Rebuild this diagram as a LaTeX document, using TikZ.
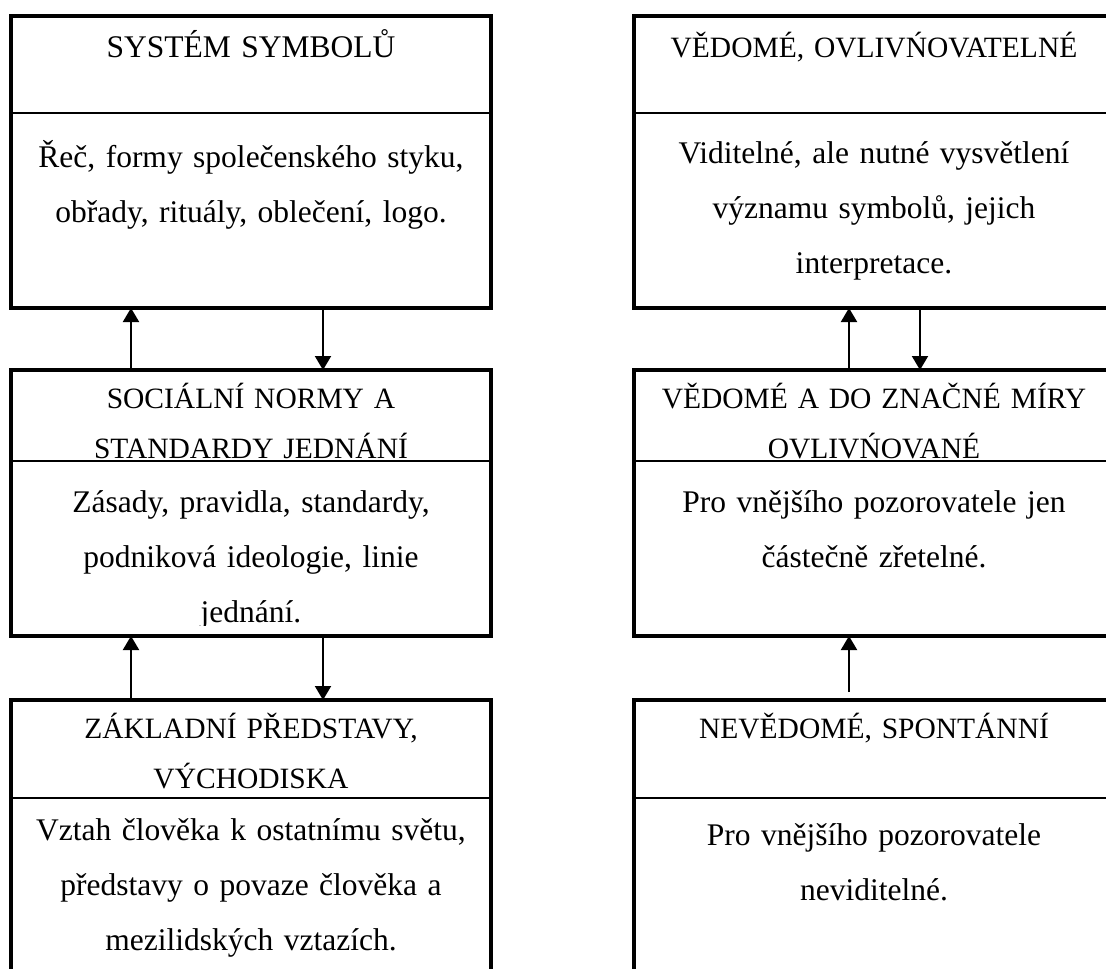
\documentclass[tikz,border=0pt]{standalone}
\usepackage{fontspec}
\setmainfont{Liberation Serif}
\usetikzlibrary{arrows.meta,calc}

\begin{document}
\begin{tikzpicture}[x=1pt,y=-1pt,
frame/.style={draw,line width=3.5pt,minimum width=480pt,inner sep=0pt,outer sep=0pt,anchor=north west},
rule/.style={draw,line width=1.2pt},
head/.style={text width=470pt,align=center,inner sep=0pt,anchor=base,font=\fontsize{29.5}{50}\selectfont},
body/.style={text width=470pt,align=center,inner sep=0pt,anchor=base,font=\fontsize{31.5}{55}\selectfont},
link/.style={-{Triangle[length=14pt,width=16pt]},line width=2pt},
]
\clip (0,0) rectangle (1106,969);
% levels of the culture (left column)
\node[frame,minimum height=292pt] (symb) at (11,16) {};
\node[frame,minimum height=266pt] (norm) at (11,370) {};
\node[frame,minimum height=300pt] (zakl) at (11,700) {};
% how far it can be seen (right column)
\node[frame,minimum height=292pt] (vedo) at (634,16) {};
\node[frame,minimum height=266pt] (ovli) at (634,370) {};
\node[frame,minimum height=300pt] (neve) at (634,700) {};
% dividers
\draw[rule] ($(symb.north west)+(0,97)$) -- ($(symb.north east)+(0,97)$);
\draw[rule] ($(norm.north west)+(0,91)$) -- ($(norm.north east)+(0,91)$);
\draw[rule] ($(zakl.north west)+(0,98)$) -- ($(zakl.north east)+(0,98)$);
\draw[rule] ($(vedo.north west)+(0,97)$) -- ($(vedo.north east)+(0,97)$);
\draw[rule] ($(ovli.north west)+(0,91)$) -- ($(ovli.north east)+(0,91)$);
\draw[rule] ($(neve.north west)+(0,98)$) -- ($(neve.north east)+(0,98)$);

\node[head,font=\fontsize{31.5}{50}\selectfont] (symbH) at (251,57) {SYSTÉM SYMBOLŮ};
\node[body] (symbB) at (251,167) {Řeč, formy společenského styku,\\obřady, rituály, oblečení, logo.};
\begin{scope}
\clip (norm.north west) rectangle ($(norm.north east)+(0,90)$);
\node[head] (normH) at (251,408) {SOCIÁLNÍ NORMY A\\STANDARDY JEDNÁNÍ};
\end{scope}
\begin{scope}
\clip ($(norm.north west)+(0,92)$) rectangle ($(norm.north east)+(0,255)$);
\node[body] (normB) at (251,512) {Zásady, pravidla, standardy,\\podniková ideologie, linie\\jednání.};
\end{scope}
\node[head] (zaklH) at (251,738) {ZÁKLADNÍ PŘEDSTAVY,\\VÝCHODISKA};
\node[body] (zaklB) at (251,840) {Vztah člověka k ostatnímu světu,\\představy o povaze člověka a\\mezilidských vztazích.};

\node[head] (vedoH) at (874,57) {VĚDOMÉ, OVLIVŃOVATELNÉ};
\node[body] (vedoB) at (874,163) {Viditelné, ale nutné vysvětlení\\významu symbolů, jejich\\interpretace.};
\begin{scope}
\clip (ovli.north west) rectangle ($(ovli.north east)+(0,90)$);
\node[head] (ovliH) at (874,408) {VĚDOMÉ A DO ZNAČNÉ MÍRY\\OVLIVŃOVANÉ};
\end{scope}
\node[body] (ovliB) at (874,512) {Pro vnějšího pozorovatele jen\\částečně zřetelné.};
\node[head] (neveH) at (874,738) {NEVĚDOMÉ, SPONTÁNNÍ};
\node[body] (neveB) at (874,845) {Pro vnějšího pozorovatele\\neviditelné.};

% connectors
\coordinate (up) at (131,0);
\coordinate (dn) at (323,0);
\coordinate (upR) at (849,0);
\coordinate (dnR) at (920,0);
\coordinate (neveTail) at (849,692);
\draw[link] (norm.north -| up) -- (symb.south -| up);
\draw[link] (symb.south -| dn) -- (norm.north -| dn);
\draw[link] (zakl.north -| up) -- (norm.south -| up);
\draw[link] (norm.south -| dn) -- (zakl.north -| dn);
\draw[link] (ovli.north -| upR) -- (vedo.south -| upR);
\draw[link] (vedo.south -| dnR) -- (ovli.north -| dnR);
\draw[link] (neveTail) -- (ovli.south -| upR);
\end{tikzpicture}
\end{document}
